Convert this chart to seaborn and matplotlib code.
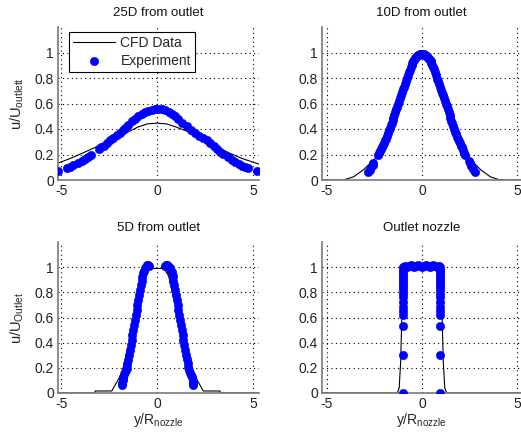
import numpy as np
import pandas as pd
import matplotlib
matplotlib.use("Agg")
import matplotlib.pyplot as plt
import seaborn as sns

# ---------------- data ----------------
titles = ["25D from outlet", "10D from outlet", "5D from outlet", "Outlet nozzle"]
ytick_vals = [0, 0.2, 0.4, 0.6, 0.8, 1.0]
ytick_labels = ["0", "0.2", "0.4", "0.6", "0.8", "1"]
xtick_vals = [-5, 0, 5]
xtick_labels = ["-5", "0", "5"]

# 25D
cfd25_x = [-5.2, -4.5, -3.6, -2.8, -1.8, -1.0, -0.5, 0.0, 0.5, 1.0, 1.6, 2.4, 3.4, 4.4, 5.3]
cfd25_y = [0.13, 0.17, 0.23, 0.285, 0.355, 0.415, 0.44, 0.446, 0.44, 0.415, 0.38, 0.31, 0.236, 0.17, 0.125]
exp25_x = [-5.17, -4.70, -4.55, -4.36, -4.1, -3.92, -3.75, -3.58, -3.44, -3.05, -2.9, -2.75, -2.62,
           -2.45, -2.27, -2.1, -1.93, -1.8, -1.67, -1.5, -1.32, -1.15, -0.97, -0.8, -0.63, -0.45,
           -0.28, -0.1, 0.07, 0.25, 0.42, 0.6, 0.76, 0.95, 1.11, 1.3, 1.54, 1.75, 1.98, 2.2, 2.41,
           2.6, 2.76, 2.95, 3.11, 3.3, 3.45, 3.71, 3.9, 4.06, 4.25, 4.41, 4.6, 4.76, 5.23]
exp25_y = [0.073, 0.094, 0.10, 0.115, 0.135, 0.15, 0.165, 0.18, 0.20, 0.24, 0.255, 0.27, 0.29,
           0.31, 0.33, 0.35, 0.37, 0.39, 0.41, 0.435, 0.46, 0.48, 0.50, 0.515, 0.53, 0.545,
           0.552, 0.556, 0.558, 0.555, 0.55, 0.535, 0.52, 0.50, 0.48, 0.45, 0.42, 0.395, 0.37, 0.345, 0.33,
           0.31, 0.29, 0.265, 0.24, 0.22, 0.205, 0.18, 0.16, 0.144, 0.125, 0.11, 0.10, 0.092, 0.073]

# 10D
cfd10_x = [-5.3, -4.14, -3.6, -3.09, -2.38, -1.6, -0.9, -0.4, 0.0, 0.4, 0.9, 1.6, 2.3, 3.1, 3.6, 4.1, 5.3]
cfd10_y = [0.0, 0.0, 0.025, 0.079, 0.18, 0.42, 0.74, 0.93, 0.99, 0.93, 0.74, 0.42, 0.2, 0.079, 0.025, 0.0, 0.0]
exp10_x = [-2.82, -2.75, -2.68, -2.6, -2.56,
           -2.3, -2.25, -2.2, -2.15, -2.1, -2.05, -2.0, -1.95, -1.9, -1.85, -1.8, -1.75, -1.7,
           -1.65, -1.6, -1.55, -1.5, -1.45, -1.4, -1.35, -1.3, -1.25, -1.2, -1.15, -1.1, -1.05,
           -1.0, -0.95, -0.9, -0.85, -0.8, -0.75, -0.7, -0.65, -0.6, -0.55, -0.5, -0.45, -0.4,
           -0.35, -0.3, -0.25, -0.2, -0.15, -0.1, -0.05, 0.0,
           0.05, 0.1, 0.15, 0.2, 0.25, 0.3, 0.35, 0.4, 0.45, 0.5, 0.55, 0.6, 0.65, 0.7, 0.75,
           0.8, 0.85, 0.9, 0.95, 1.0, 1.05, 1.1, 1.15, 1.2, 1.25, 1.3, 1.35, 1.4, 1.45, 1.5,
           1.55, 1.6, 1.65, 1.7, 1.75, 1.8, 1.85, 1.9, 1.95, 2.0, 2.05, 2.1, 2.15, 2.2, 2.26,
           2.45, 2.53, 2.6, 2.7, 2.79]
exp10_y = [0.066, 0.08, 0.10, 0.12, 0.13,
           0.20, 0.21, 0.225, 0.24, 0.26, 0.275, 0.29, 0.31, 0.325, 0.345, 0.365, 0.39, 0.41,
           0.43, 0.45, 0.47, 0.49, 0.51, 0.535, 0.555, 0.575, 0.60, 0.62, 0.645, 0.665, 0.69,
           0.71, 0.73, 0.755, 0.78, 0.80, 0.82, 0.845, 0.865, 0.885, 0.905, 0.92, 0.935, 0.945,
           0.955, 0.965, 0.972, 0.977, 0.982, 0.986, 0.989, 0.99,
           0.988, 0.985, 0.98, 0.975, 0.97, 0.96, 0.95, 0.94, 0.93, 0.915, 0.90, 0.89, 0.87, 0.845, 0.82,
           0.795, 0.775, 0.75, 0.73, 0.705, 0.685, 0.665, 0.645, 0.62, 0.60, 0.58, 0.555, 0.535, 0.51, 0.49,
           0.465, 0.445, 0.42, 0.40, 0.38, 0.36, 0.34, 0.32, 0.305, 0.29, 0.27, 0.255, 0.235, 0.215, 0.20,
           0.15, 0.13, 0.11, 0.09, 0.066]

# 5D
cfd5_x = [-5.3, -3.23, -3.22, -2.36, -1.84, -1.2, -0.6, -0.36, 0.36, 0.6, 1.2, 1.89, 2.41, 3.28, 3.29, 5.3]
cfd5_y = [0.0, 0.0, 0.016, 0.016, 0.156, 0.55, 0.93, 0.99, 0.99, 0.93, 0.55, 0.156, 0.016, 0.016, 0.0, 0.0]
exp5_x = [-1.84, -1.82, -1.8, -1.77, -1.75, -1.7, -1.66, -1.62, -1.58, -1.54, -1.5, -1.46, -1.41,
          -1.37, -1.32, -1.28, -1.23, -1.19, -1.15, -1.1, -1.06, -1.02, -0.98, -0.94, -0.89, -0.85,
          -0.8, -0.76, -0.71, -0.67, -0.62, -0.58, -0.55, -0.5, -0.45, -0.4,
          0.42, 0.46, 0.5, 0.55, 0.6, 0.65, 0.7, 0.74, 0.77, 0.81, 0.85, 0.9, 0.94, 0.98, 1.02,
          1.07, 1.11, 1.15, 1.2, 1.24, 1.29, 1.33, 1.37, 1.42, 1.46, 1.5, 1.55, 1.59, 1.63, 1.68,
          1.72, 1.76, 1.8, 1.85, 1.87, 1.89]
exp5_y = [0.063, 0.08, 0.10, 0.12, 0.13, 0.15, 0.17, 0.185, 0.196, 0.23, 0.26, 0.30, 0.34,
          0.38, 0.42, 0.46, 0.50, 0.54, 0.58, 0.62, 0.66, 0.70, 0.74, 0.78, 0.82, 0.86,
          0.89, 0.92, 0.95, 0.97, 0.99, 1.0, 1.01, 1.015, 1.016, 1.01,
          1.01, 1.016, 1.016, 1.01, 1.0, 0.99, 0.985, 0.97, 0.96, 0.93, 0.89, 0.855, 0.82, 0.78, 0.74,
          0.70, 0.66, 0.62, 0.58, 0.54, 0.50, 0.46, 0.42, 0.38, 0.34, 0.30, 0.27, 0.24, 0.21, 0.18,
          0.16, 0.145, 0.13, 0.095, 0.08, 0.063]

# Outlet nozzle
cfdn_x = [-5.3, -1.3, -1.2, -1.12, -1.07, -1.03, -1.0, -0.9, 0.0, 0.9, 1.0, 1.03, 1.07, 1.12, 1.2, 1.3, 5.3]
cfdn_y = [0.0, 0.0, 0.04, 0.25, 0.55, 0.85, 0.97, 1.0, 1.0, 1.0, 0.97, 0.85, 0.55, 0.25, 0.04, 0.0, 0.0]
expn_x = [-1.0, -1.0, -1.0, -1.0, -1.0, -1.0, -1.01, -1.0, -0.99, -1.0, -1.01, -1.0, -0.99, -1.0,
          -1.01, -1.0, -0.99, -1.0, -0.98,
          -0.9, -0.8, -0.7, -0.6, -0.5, -0.4, -0.3, -0.2, -0.1, 0.0, 0.1, 0.2, 0.3, 0.4, 0.5,
          0.6, 0.7, 0.8, 0.9,
          0.96, 0.96, 0.96, 0.96, 0.96, 0.96, 0.97, 0.96, 0.95, 0.96, 0.97, 0.96, 0.95, 0.96,
          0.97, 0.96, 0.95, 0.96, 0.94]
expn_y = [0.0, 0.30, 0.53, 0.62, 0.65, 0.68, 0.72, 0.76, 0.79, 0.82, 0.84, 0.86, 0.88, 0.90,
          0.92, 0.94, 0.96, 0.98, 1.0,
          1.01, 1.0, 1.01, 1.02, 1.01, 1.0, 1.01, 1.02, 1.01, 1.0, 1.01, 1.02, 1.01, 1.0, 1.01,
          1.02, 1.01, 1.0, 1.01,
          0.0, 0.30, 0.53, 0.62, 0.65, 0.68, 0.72, 0.76, 0.79, 0.82, 0.84, 0.86, 0.88, 0.90,
          0.92, 0.94, 0.96, 0.98, 1.0]

panels = [
    (cfd25_x, cfd25_y, exp25_x, exp25_y, (-5.16, 5.31)),
    (cfd10_x, cfd10_y, exp10_x, exp10_y, (-5.26, 5.21)),
    (cfd5_x, cfd5_y, exp5_x, exp5_y, (-5.16, 5.31)),
    (cfdn_x, cfdn_y, expn_x, expn_y, (-5.26, 5.21)),
]

# ---------------- style ----------------
sns.set_style("white")
plt.rcParams["font.family"] = ["Liberation Sans", "DejaVu Sans"]
plt.rcParams["mathtext.fontset"] = "custom"
plt.rcParams["mathtext.rm"] = "Liberation Sans"

W, H = 521, 441
fig = plt.figure(figsize=(W / 100, H / 100), dpi=100)

# pixel boxes (left, top, right, bottom)
boxes = [(58, 27, 259, 180), (322, 27, 521, 180), (58, 242, 259, 393), (322, 242, 521, 393)]
spine_col = "#7a7a7a"
blue = "#0000FF"

axes = []
for i, (l, t, r, b) in enumerate(boxes):
    ax = fig.add_axes([l / W, 1 - b / H, (r - l) / W, (b - t) / H])
    cx, cy, ex, ey, xl = panels[i]
    dfc = pd.DataFrame({"x": cx, "y": cy})
    dfe = pd.DataFrame({"x": ex, "y": ey})
    sns.lineplot(data=dfc, x="x", y="y", ax=ax, color="black", lw=0.8, sort=False,
                 estimator=None, label="CFD Data" if i == 0 else None, zorder=2)
    sns.scatterplot(data=dfe, x="x", y="y", ax=ax, color=blue, s=36, edgecolor=blue,
                    linewidth=0.4, label="Experiment" if i == 0 else None, zorder=3)
    ax.set_xlim(*xl)
    ax.set_ylim(0, 1.2)
    ax.set_xticks(xtick_vals)
    ax.set_xticklabels(xtick_labels)
    ax.set_yticks(ytick_vals)
    ax.set_yticklabels(ytick_labels)
    ax.grid(True, linestyle=(0, (1, 3)), color="black", linewidth=0.8)
    ax.set_axisbelow(True)
    for s in ["top", "right"]:
        ax.spines[s].set_visible(False)
    for s in ["left", "bottom"]:
        ax.spines[s].set_color(spine_col)
        ax.spines[s].set_linewidth(1.2)
    ax.tick_params(axis="both", labelsize=10, colors="#222222", length=0, pad=3)
    ax.set_title(titles[i], fontsize=9.5, pad=8, color="#111111")
    ax.set_xlabel("")
    ax.set_ylabel("")
    axes.append(ax)

axes[0].set_ylabel(r"u/U$_{\mathregular{outlett}}$", fontsize=10.5, labelpad=6)
axes[2].set_ylabel(r"u/U$_{\mathregular{Outlet}}$", fontsize=10.5, labelpad=6)
axes[2].set_xlabel(r"y/R$_{\mathregular{nozzle}}$", fontsize=10, labelpad=0)
axes[3].set_xlabel(r"y/R$_{\mathregular{nozzle}}$", fontsize=10, labelpad=0)

leg = axes[0].legend(loc="upper left", bbox_to_anchor=(0.055, 0.967), borderaxespad=0,
                     fontsize=10, frameon=True, fancybox=False, handlelength=3.0,
                     handletextpad=0.4, borderpad=0.3, labelspacing=0.25)
leg.get_frame().set_edgecolor("black")
leg.get_frame().set_linewidth(0.8)
leg.get_frame().set_alpha(1)

fig.savefig("out.png", dpi=100)
